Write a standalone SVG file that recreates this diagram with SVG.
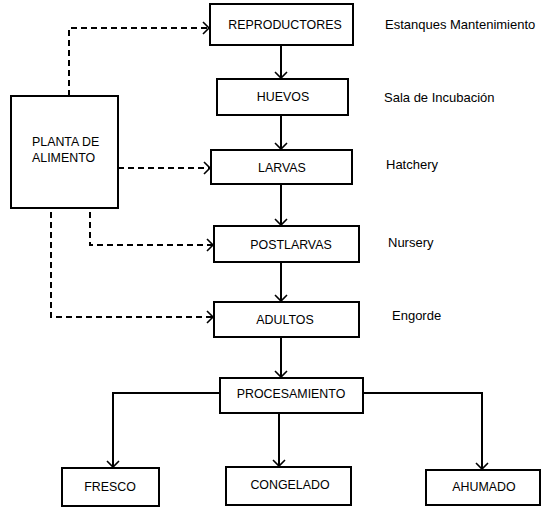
<svg xmlns="http://www.w3.org/2000/svg" width="550" height="518" viewBox="0 0 550 518">
<defs>
<marker id="arr" markerUnits="userSpaceOnUse" markerWidth="16" markerHeight="16" refX="0" refY="0" viewBox="-10 -8 12 16" orient="auto">
<path d="M-6,-6 L0,0 L-6,6" fill="none" stroke="#000" stroke-width="1.6"/>
</marker>
<style>
.box{fill:#fff;stroke:#000;stroke-width:2}
.t{font-family:"Liberation Sans",Arial,sans-serif;font-size:12.4px;fill:#000;text-anchor:middle}
.pl{font-family:"Liberation Sans",Arial,sans-serif;font-size:12.4px;fill:#000}
.side{font-family:"Liberation Sans",Arial,sans-serif;font-size:13px;fill:#000}
.solid{fill:none;stroke:#000;stroke-width:2}
.dash{fill:none;stroke:#000;stroke-width:2;stroke-dasharray:6,4}
</style>
</defs>
<g id="connectors">
<line class="solid" x1="281" y1="45" x2="281" y2="78" marker-end="url(#arr)"/>
<line class="solid" x1="281" y1="115" x2="281" y2="149" marker-end="url(#arr)"/>
<line class="solid" x1="281" y1="184" x2="281" y2="225" marker-end="url(#arr)"/>
<line class="solid" x1="281" y1="262" x2="281" y2="301" marker-end="url(#arr)"/>
<line class="solid" x1="281" y1="337" x2="281" y2="377" marker-end="url(#arr)"/>
<polyline class="solid" points="220,393 113,393 113,467" marker-end="url(#arr)"/>
<line class="solid" x1="279" y1="413" x2="279" y2="466" marker-end="url(#arr)"/>
<polyline class="solid" points="363,393 482,393 482,469" marker-end="url(#arr)"/>
<polyline class="dash" points="69,96 69,28 209,28" marker-end="url(#arr)"/>
<line class="dash" x1="118" y1="168" x2="210" y2="168" marker-end="url(#arr)"/>
<polyline class="dash" points="90,212 90,245 213,245" marker-end="url(#arr)"/>
<polyline class="dash" points="51,212 51,317 213,317" marker-end="url(#arr)"/>
</g>
<g id="planta"><rect class="box" x="11" y="96" width="107" height="112"/><text class="pl" x="32" y="146">PLANTA DE</text><text class="pl" x="32" y="162">ALIMENTO</text></g>
<g id="reproductores"><rect class="box" x="210" y="4" width="143" height="41"/><text class="t" x="285" y="29">REPRODUCTORES</text></g>
<g id="huevos"><rect class="box" x="217" y="79" width="131" height="36"/><text class="t" x="283" y="101">HUEVOS</text></g>
<g id="larvas"><rect class="box" x="211" y="150" width="141" height="34"/><text class="t" x="282" y="172">LARVAS</text></g>
<g id="postlarvas"><rect class="box" x="214" y="226" width="145" height="36"/><text class="t" x="291" y="249">POSTLARVAS</text></g>
<g id="adultos"><rect class="box" x="214" y="302" width="145" height="35"/><text class="t" x="285" y="324">ADULTOS</text></g>
<g id="procesamiento"><rect class="box" x="220" y="378" width="143" height="35"/><text class="t" x="291" y="398">PROCESAMIENTO</text></g>
<g id="fresco"><rect class="box" x="62" y="468" width="97" height="38"/><text class="t" x="110" y="491">FRESCO</text></g>
<g id="congelado"><rect class="box" x="226" y="467" width="125" height="38"/><text class="t" x="290" y="489">CONGELADO</text></g>
<g id="ahumado"><rect class="box" x="426" y="470" width="114" height="35"/><text class="t" x="484" y="491">AHUMADO</text></g>
<g id="labels">
<text class="side" x="385" y="29">Estanques Mantenimiento</text>
<text class="side" x="384" y="102">Sala de Incubación</text>
<text class="side" x="386" y="169">Hatchery</text>
<text class="side" x="388" y="247">Nursery</text>
<text class="side" x="392" y="320">Engorde</text>
</g>
</svg>
